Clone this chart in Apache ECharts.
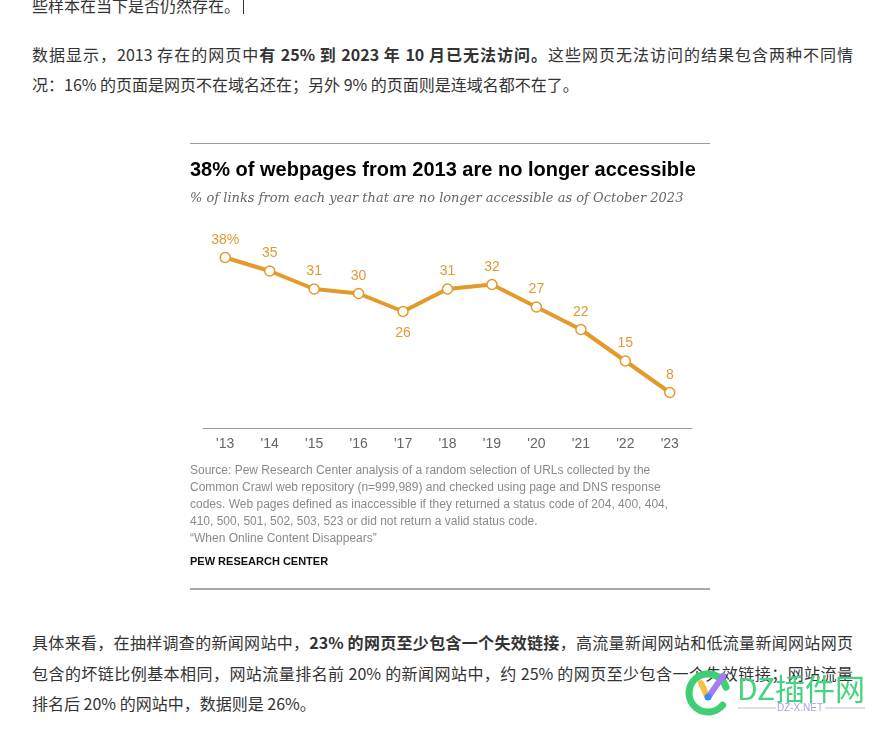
<!DOCTYPE html>
<html>
<head>
<meta charset="utf-8">
<script src="https://cdn.jsdelivr.net/npm/echarts@6/dist/echarts.min.js"></script>
<style>
html,body{margin:0;padding:0;background:#fff;}
#wrap{position:relative;width:885px;height:731px;overflow:hidden;background:#fff;}
#c{position:absolute;left:0;top:0;width:885px;height:731px;z-index:2;}
.ln{position:absolute;left:32px;width:821px;height:30px;line-height:30px;font-size:16px;
    font-family:"Noto Sans CJK SC","Microsoft YaHei",sans-serif;color:#333;white-space:nowrap;z-index:1;}
.ln.j{text-align:justify;text-align-last:justify;white-space:normal;overflow:hidden;}
.ln b{font-weight:bold;}
</style>
</head>
<body>
<div id="wrap">
<div id="txt"></div>
<div id="c"></div>
</div>
<script>
// ---- chart data ----
const years = ["'13","'14","'15","'16","'17","'18","'19","'20","'21","'22","'23"];
const pctInaccessible = [38, 35, 31, 30, 26, 31, 32, 27, 22, 15, 8];
const titleText = "38% of webpages from 2013 are no longer accessible";
const subtitleText = "% of links from each year that are no longer accessible as of October 2023";
const sourceLines = [
  "Source: Pew Research Center analysis of a random selection of URLs collected by the",
  "Common Crawl web repository (n=999,989) and checked using page and DNS response",
  "codes. Web pages defined as inaccessible if they returned a status code of 204, 400, 404,",
  "410, 500, 501, 502, 503, 523 or did not return a valid status code.",
  "\u201cWhen Online Content Disappears\u201d"
];
const creditText = "PEW RESEARCH CENTER";
// ---- article text (segments: [text, bold]) ----
const articleTop = [["些样本在当下是否仍然存在。", false]];
const para1Line1 = [["数据显示，2013 存在的网页中", false], ["有 25% 到 2023 年 10 月已无法访问。", true], ["这些网页无法访问的结果包含两种不同情", false]];
const para1Line2 = [["况：16% 的页面是网页不在域名还在；另外 9% 的页面则是连域名都不在了。", false]];
const para2Line1 = [["具体来看，在抽样调查的新闻网站中，", false], ["23% 的网页至少包含一个失效链接", true], ["，高流量新闻网站和低流量新闻网站网页", false]];
const para2Line2 = [["包含的坏链比例基本相同，网站流量排名前 20% 的新闻网站中，约 25% 的网页至少包含一个失效链接；网站流量", false]];
const para2Line3 = [["排名后 20% 的网站中，数据则是 26%。", false]];

const lines = [
  {segs: articleTop, cy: 5, justify: false},
  {segs: para1Line1, cy: 54, justify: true},
  {segs: para1Line2, cy: 84, justify: false},
  {segs: para2Line1, cy: 642, justify: true},
  {segs: para2Line2, cy: 672.5, justify: true},
  {segs: para2Line3, cy: 703, justify: false}
];
const txt = document.getElementById('txt');
lines.forEach(l => {
  const d = document.createElement('div');
  d.className = 'ln' + (l.justify ? ' j' : '');
  d.style.top = (l.cy - 15) + 'px';
  l.segs.forEach(s => {
    const e = document.createElement(s[1] ? 'b' : 'span');
    e.textContent = s[0];
    d.appendChild(e);
  });
  txt.appendChild(d);
});

const graphics = [];
// text cursor after first line
graphics.push({type:'line', shape:{x1:243.5,y1:-4,x2:243.5,y2:14}, style:{stroke:'#333', lineWidth:1}});
// rules
graphics.push({type:'line', shape:{x1:190,y1:143.5,x2:710,y2:143.5}, style:{stroke:'#9a9a9a', lineWidth:1}});
graphics.push({type:'line', shape:{x1:190,y1:589,x2:710,y2:589}, style:{stroke:'#8c8c8c', lineWidth:1.5}});
// title & subtitle
graphics.push({type:'text', x:190, y:170, style:{text:titleText, font:'bold 20px "Liberation Sans", Arial, sans-serif', fill:'#000', verticalAlign:'middle'}});
graphics.push({type:'text', x:190, y:199, style:{text:subtitleText, font:'italic 13px "DejaVu Serif", Georgia, serif', fill:'#666', verticalAlign:'middle'}});
sourceLines.forEach((t,i)=>{
  graphics.push({type:'text', x:190, y:471 + i*16.8, style:{text:t, font:'12px "Liberation Sans", Arial, sans-serif', fill:'#8a8a8a', verticalAlign:'middle'}});
});
graphics.push({type:'text', x:190, y:562, style:{text:creditText, font:'bold 11px "Liberation Sans", Arial, sans-serif', fill:'#111', verticalAlign:'middle'}});
// watermark
const CJK = '"Noto Sans CJK SC", sans-serif';
graphics.push({type:'arc', shape:{cx:708, cy:693, r:19, startAngle:Math.PI*0.22, endAngle:Math.PI*1.9}, style:{stroke:'#3ccf74', lineWidth:7, fill:null, lineCap:'round'}, z:10});
graphics.push({type:'line', shape:{x1:701,y1:683,x2:707,y2:696}, style:{stroke:'#f7bf45', lineWidth:6, lineCap:'round'}, z:10});
graphics.push({type:'line', shape:{x1:709,y1:696,x2:723,y2:676}, style:{stroke:'#a47cf3', lineWidth:6, lineCap:'round'}, z:10});
graphics.push({type:'circle', shape:{cx:708, cy:697, r:3.5}, style:{fill:'#2f8ff5'}, z:11});
graphics.push({type:'text', x:737, y:689, style:{text:'DZ插件网', font:'30px '+CJK, fill:'#45d37f', verticalAlign:'middle'}, z:10});
graphics.push({type:'text', x:800, y:708, style:{text:'DZ-X.NET', font:'10px "Liberation Sans", Arial, sans-serif', fill:'#b39cf0', verticalAlign:'middle', align:'center'}, z:10});
graphics.push({type:'line', shape:{x1:738,y1:708,x2:776,y2:708}, style:{stroke:'#c7b4f5', lineWidth:1}, z:10});
graphics.push({type:'line', shape:{x1:825,y1:708,x2:865,y2:708}, style:{stroke:'#c7b4f5', lineWidth:1}, z:10});

const chart = echarts.init(document.getElementById('c'));
chart.setOption({
  animation: false,
  backgroundColor: 'transparent',
  grid: {left: 203, right: 193, top: 248.5, bottom: 302.5},
  xAxis: {
    type: 'category', data: years, boundaryGap: true,
    axisLine: {lineStyle: {color: '#999', width: 1}},
    axisTick: {alignWithLabel: true, length: 4, lineStyle: {color: '#999'}},
    axisLabel: {color: '#666', fontSize: 14, fontFamily: '"Liberation Sans", Arial, sans-serif', margin: 9}
  },
  yAxis: {type: 'value', min: 0, max: 40, show: false, splitLine: {show: false}},
  series: [{
    type: 'line',
    data: pctInaccessible.map((v,i)=> i===4 ? {value:v, label:{position:'bottom', distance:9}} : v),
    lineStyle: {color: '#E39A2A', width: 4},
    itemStyle: {color: '#fff', borderColor: '#E39A2A', borderWidth: 1.5},
    symbol: 'circle', symbolSize: 10, showAllSymbol: true,
    label: {
      show: true, position: 'top', distance: 5, color: '#E09A35', fontSize: 14,
      fontFamily: '"Liberation Sans", Arial, sans-serif',
      formatter: p => p.dataIndex === 0 ? p.value + '%' : String(p.value)
    },
    z: 3
  }],
  graphic: graphics
});
</script>
</body>
</html>
